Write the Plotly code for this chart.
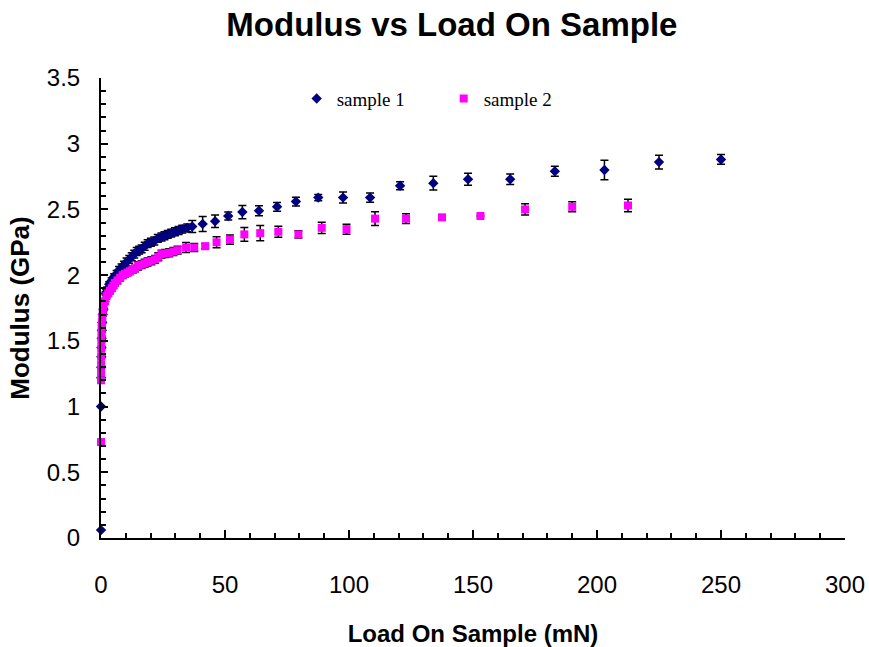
import plotly.graph_objects as go

# Sample 1 (navy diamonds)
s1_load = [0.01, 0.02, 0.05, 0.08, 0.12, 0.18, 0.25, 0.35, 0.5, 0.7, 1.0, 1.4, 1.9, 2.5, 3.3,
           4.3, 5.3, 6.3, 7.3, 8.3, 9.3, 10.3, 11.4, 12.4, 13.4, 14.4, 15.4, 16.4, 17.6, 18.8,
           20.1, 21.5, 22.9, 24.4, 25.6, 26.9, 28.3, 29.8, 31.3, 32.8, 34.8, 36.8, 41, 46, 51.3,
           57, 63.7, 71, 78.6, 87.6, 97.6, 108.5, 120.6, 134, 148, 165, 183, 203, 225, 250]
s1_mod = [0.06, 1.0, 1.22, 1.30, 1.38, 1.45, 1.52, 1.58, 1.64, 1.70, 1.74, 1.80, 1.86, 1.89, 1.93,
          1.96, 1.99, 2.01, 2.04, 2.06, 2.08, 2.10, 2.12, 2.14, 2.16, 2.18, 2.19, 2.20, 2.22, 2.24,
          2.25, 2.26, 2.28, 2.29, 2.30, 2.31, 2.32, 2.33, 2.34, 2.35, 2.36, 2.37, 2.39, 2.41, 2.45,
          2.48, 2.49, 2.52, 2.56, 2.59, 2.59, 2.59, 2.68, 2.70, 2.73, 2.73, 2.79, 2.80, 2.86, 2.88]
s1_err = [0.0, 0.0, 0.01, 0.01, 0.01, 0.01, 0.01, 0.01, 0.01, 0.01, 0.01, 0.015, 0.015, 0.02, 0.02,
          0.02, 0.02, 0.025, 0.025, 0.025, 0.025, 0.03, 0.03, 0.03, 0.03, 0.03, 0.03, 0.03, 0.03, 0.03,
          0.03, 0.03, 0.03, 0.03, 0.03, 0.03, 0.03, 0.03, 0.03, 0.03, 0.03, 0.045, 0.057, 0.048, 0.03,
          0.05, 0.038, 0.033, 0.033, 0.024, 0.042, 0.035, 0.03, 0.053, 0.046, 0.04, 0.038, 0.074, 0.053, 0.037]

# Sample 2 (magenta squares)
s2_load = [0.0, 0.01, 0.02, 0.04, 0.06, 0.09, 0.13, 0.18, 0.25, 0.35, 0.5, 0.7, 1.0, 1.6, 2.2,
           2.9, 3.6, 4.3, 5.0, 5.6, 6.6, 7.7, 8.7, 9.7, 10.7, 11.7, 12.7, 13.7, 15.0, 16.4,
           17.6, 18.8, 20.3, 21.8, 23.1, 24.4, 25.9, 27.5, 29.2, 30.9, 34.3, 37.6, 42, 46.6, 52,
           57.8, 64.2, 71.5, 79.6, 89, 99, 110.5, 123, 137.5, 153, 171, 190, 212.5]
s2_mod = [0.73, 1.20, 1.26, 1.32, 1.38, 1.44, 1.50, 1.55, 1.60, 1.64, 1.68, 1.72, 1.76, 1.80, 1.84,
          1.86, 1.88, 1.90, 1.92, 1.94, 1.96, 1.98, 2.00, 2.01, 2.02, 2.03, 2.04, 2.05, 2.07, 2.08,
          2.09, 2.10, 2.11, 2.12, 2.14, 2.16, 2.165, 2.17, 2.18, 2.19, 2.21, 2.21, 2.22, 2.25, 2.27,
          2.31, 2.32, 2.33, 2.31, 2.36, 2.35, 2.43, 2.43, 2.44, 2.45, 2.50, 2.52, 2.53]
s2_err = [0.0, 0.01, 0.01, 0.01, 0.01, 0.01, 0.01, 0.01, 0.01, 0.01, 0.01, 0.01, 0.015, 0.015, 0.015,
          0.02, 0.02, 0.02, 0.02, 0.02, 0.025, 0.025, 0.025, 0.025, 0.025, 0.025, 0.025, 0.025, 0.03, 0.03,
          0.03, 0.03, 0.03, 0.03, 0.03, 0.03, 0.03, 0.03, 0.03, 0.03, 0.038, 0.03, 0.02, 0.042, 0.035,
          0.053, 0.058, 0.042, 0.027, 0.043, 0.038, 0.053, 0.038, 0.01, 0.0, 0.043, 0.038, 0.047]

SANS = "Liberation Sans, Arial, sans-serif"

fig = go.Figure()
fig.add_trace(go.Scatter(
    x=s1_load, y=s1_mod, mode="markers", name="sample 1",
    marker=dict(symbol="diamond", color="#000080", size=8),
    error_y=dict(type="data", array=s1_err, color="black", thickness=1.5, width=4),
    cliponaxis=False))
fig.add_trace(go.Scatter(
    x=s2_load, y=s2_mod, mode="markers", name="sample 2",
    marker=dict(symbol="square", color="#FF00FF", size=8),
    error_y=dict(type="data", array=s2_err, color="black", thickness=1.5, width=4),
    cliponaxis=False))

axis_font = dict(family=SANS, size=24, color="black")
fig.update_layout(
    width=869, height=647,
    paper_bgcolor="white", plot_bgcolor="white",
    margin=dict(l=101, r=24, t=78, b=109),
    title=dict(text="<b>Modulus vs Load On Sample</b>", x=0.52, xanchor="center", y=0.962, yanchor="middle",
               font=dict(family=SANS, size=33, color="black")),
    showlegend=True,
    legend=dict(orientation="h", x=0.263, y=0.955, xanchor="left", yanchor="middle",
                bgcolor="rgba(0,0,0,0)", entrywidth=102, entrywidthmode="pixels",
                font=dict(family="Liberation Serif, Times New Roman, serif", size=19, color="black")),
    xaxis=dict(range=[0, 300], dtick=50, showgrid=False, zeroline=False, automargin=False,
               showline=True, linecolor="black", linewidth=2,
               ticks="inside", ticklen=8, tickwidth=2, tickcolor="black",
               minor=dict(dtick=10, ticks="inside", ticklen=5, tickwidth=1.5, tickcolor="black"),
               tickfont=axis_font, ticklabelstandoff=24,
               title=dict(text="<b>Load On Sample (mN)</b>", standoff=30,
                          font=dict(family=SANS, size=24, color="black"))),
    yaxis=dict(range=[0, 3.5], dtick=0.5, showgrid=False, zeroline=False, automargin=False,
               showline=True, linecolor="black", linewidth=2,
               ticks="inside", ticklen=7, tickwidth=2, tickcolor="black",
               minor=dict(dtick=0.1, ticks="inside", ticklen=5, tickwidth=1.5, tickcolor="black"),
               tickfont=axis_font, ticklabelstandoff=14,
               title=dict(text="<b>Modulus (GPa)</b>", standoff=10,
                          font=dict(family=SANS, size=26, color="black"))),
)

fig.write_html("out.html")
